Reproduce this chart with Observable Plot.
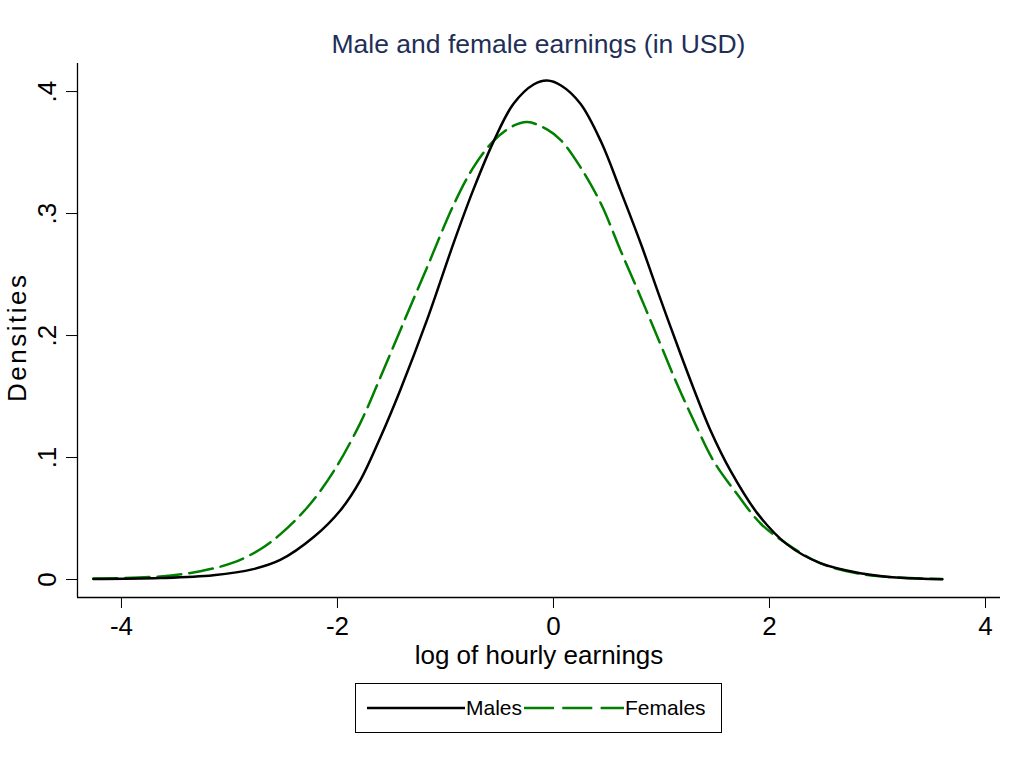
<!DOCTYPE html>
<html>
<head>
<meta charset="utf-8">
<script src="https://cdn.jsdelivr.net/npm/d3@7"></script>
<script src="https://cdn.jsdelivr.net/npm/@observablehq/plot@0.6"></script>
<style>
  html, body { margin: 0; padding: 0; background: #fff; }
  body { width: 1026px; height: 762px; font-family: "Liberation Sans", Arial, sans-serif; color: #000; }
  #title { box-sizing: border-box; height: 62px; padding-top: 29px; padding-left: 77px; width: 1000px;
           text-align: center; font-size: 26.5px; line-height: 30px; color: #1f2f58; }
  #chart svg { display: block; }
  #legend { box-sizing: border-box; margin-left: 355px; margin-top: 1px; width: 367px; height: 50px;
            border: 1.3px solid #000; display: flex; align-items: center; padding-left: 11px;
            font-size: 21px; }
  #legend svg { display: block; }
</style>
</head>
<body>
<div id="title">Male and female earnings (in USD)</div>
<div id="chart"></div>
<div id="legend"></div>
<script>
// ---- data ----
const series = ["Males", "Females"];
const seriesColors = ["#000000", "#008000"];

const malesX = [-4.26, -3.64, -3.15, -2.78, -2.53, -2.22, -1.97, -1.79, -1.60, -1.42, -1.17, -0.92, -0.74, -0.55, -0.37, -0.18, -0.06, 0.07, 0.25, 0.44, 0.62, 0.81, 0.99, 1.18, 1.30, 1.45, 1.64, 1.89, 2.16, 2.47, 2.84, 3.21, 3.60];
const malesY = [0.0004, 0.0012, 0.0035, 0.0085, 0.016, 0.0348, 0.057, 0.081, 0.117, 0.155, 0.213, 0.277, 0.320, 0.360, 0.390, 0.406, 0.409, 0.405, 0.390, 0.359, 0.319, 0.275, 0.230, 0.184, 0.156, 0.123, 0.089, 0.054, 0.029, 0.0134, 0.0052, 0.0014, 0.0003];

const femalesX = [-4.26, -3.64, -3.27, -2.96, -2.71, -2.53, -2.28, -2.04, -1.79, -1.63, -1.42, -1.17, -0.92, -0.74, -0.55, -0.37, -0.24, -0.06, 0.07, 0.25, 0.44, 0.62, 0.81, 0.99, 1.145, 1.30, 1.48, 1.70, 1.92, 2.16, 2.47, 2.84, 3.40, 3.60];
const femalesY = [0.0008, 0.0025, 0.0068, 0.014, 0.025, 0.037, 0.059, 0.088, 0.128, 0.160, 0.204, 0.256, 0.308, 0.338, 0.360, 0.372, 0.375, 0.369, 0.360, 0.338, 0.308, 0.270, 0.231, 0.193, 0.160, 0.130, 0.0975, 0.070, 0.0457, 0.0293, 0.0134, 0.0046, 0.0008, 0.0004];

const xTicks = [-4, -2, 0, 2, 4];
const xTickLabels = ["-4", "-2", "0", "2", "4"];
const yTicks = [0, 0.1, 0.2, 0.3, 0.4];
const yTickLabels = ["0", ".1", ".2", ".3", ".4"];

const xLabel = "log of hourly earnings";
const yLabel = "Densities";

// ---- build table ----
const rows = [
  ...malesX.map((x, i) => ({series: series[0], x, y: malesY[i]})),
  ...femalesX.map((x, i) => ({series: series[1], x, y: femalesY[i]}))
];

const xDomain = [-4.407, 4.139];
const yDomain = [-0.01475, 0.423];

const plot = Plot.plot({
  width: 1026,
  height: 620,
  marginTop: 1,
  marginBottom: 85,
  marginLeft: 77,
  marginRight: 26,
  style: {fontFamily: "'Liberation Sans', Arial, sans-serif", background: "#fff", color: "#000"},
  x: {domain: xDomain},
  y: {domain: yDomain},
  color: {domain: series, range: seriesColors},
  marks: [
    Plot.ruleX([xDomain[0]], {stroke: "#000", strokeWidth: 1.3}),
    Plot.ruleY([yDomain[0]], {stroke: "#000", strokeWidth: 1.3}),
    Plot.axisX({ticks: xTicks, tickSize: 11, tickPadding: 8, fontSize: 26, label: null,
                tickFormat: d => xTickLabels[xTicks.indexOf(d)]}),
    Plot.axisY({ticks: yTicks, tickSize: 11, label: null, tickFormat: () => ""}),
    Plot.text(yTicks, {y: d => d, text: d => yTickLabels[yTicks.indexOf(d)], frameAnchor: "left",
                       dx: -22, rotate: -90, textAnchor: "middle", lineAnchor: "bottom", fontSize: 26}),
    Plot.text([yLabel], {frameAnchor: "left", dx: -52, dy: 6.7, rotate: -90, textAnchor: "middle",
                         lineAnchor: "bottom", fontSize: 26}),
    Plot.text([xLabel], {frameAnchor: "bottom", dy: 66, lineAnchor: "bottom", textAnchor: "middle", fontSize: 26}),
    Plot.line(rows.filter(d => d.series === series[1]), {x: "x", y: "y", stroke: seriesColors[1],
              strokeWidth: 2.5, strokeDasharray: "24,8", curve: "catmull-rom"}),
    Plot.line(rows.filter(d => d.series === series[0]), {x: "x", y: "y", stroke: seriesColors[0],
              strokeWidth: 2.5, curve: "catmull-rom"})
  ]
});

plot.querySelectorAll("text").forEach(t => {
  if (t.textContent === yLabel) t.style.letterSpacing = "2.5px";
});
document.getElementById("chart").appendChild(plot);

// ---- legend ----
const legend = document.getElementById("legend");
const swatchWidths = [98, 100];
const dashes = [null, "30,8.3"];
series.forEach((s, i) => {
  const svg = d3.create("svg").attr("width", swatchWidths[i]).attr("height", 10);
  const ln = svg.append("line").attr("x1", 0).attr("x2", swatchWidths[i]).attr("y1", 5).attr("y2", 5)
    .attr("stroke", seriesColors[i]).attr("stroke-width", 2.5);
  if (dashes[i]) ln.attr("stroke-dasharray", dashes[i]);
  legend.appendChild(svg.node());
  const span = document.createElement("span");
  span.textContent = s;
  span.style.marginLeft = "1px";
  span.style.marginRight = "2px";
  legend.appendChild(span);
});
</script>
</body>
</html>
